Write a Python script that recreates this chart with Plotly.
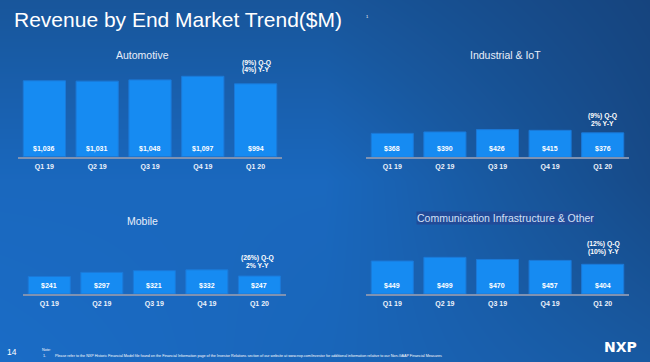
import plotly.graph_objects as go

# ---------------- data ----------------
quarters = ["Q1 19", "Q2 19", "Q3 19", "Q4 19", "Q1 20"]
automotive = [1036, 1031, 1048, 1097, 994]
industrial_iot = [368, 390, 426, 415, 376]
mobile = [241, 297, 321, 332, 247]
comm_infra = [449, 499, 470, 457, 404]

panel_titles = ["Automotive", "Industrial & IoT", "Mobile",
                "Communication Infrastructure & Other"]
growth_qq = ["(9%) Q-Q", "(9%) Q-Q", "(26%) Q-Q", "(12%) Q-Q"]
growth_yy = ["(4%) Y-Y", "2% Y-Y", "2% Y-Y", "(10%) Y-Y"]

# ---------------- layout helpers ----------------
W, H = 650, 362
def px_x(p):
    return p / W
def px_y(p):
    return 1 - p / H

FONT = "Liberation Sans, Arial, sans-serif"
BAR = "#168bf2"
BAR_EDGE = "#1b79d8"
TXT = "#eef3fb"

panels = [
    dict(vals=automotive, ax="2", x0=18, x1=282, base=156.8, top=60, ymax=1319,
         tx=142, ty=55.5, gx=256, gy=(62.8, 70.3)),
    dict(vals=industrial_iot, ax="3", x0=366, x1=629, base=157.3, top=60, ymax=1497,
         tx=505, ty=55, gx=602.7, gy=(116.2, 123.5)),
    dict(vals=mobile, ax="4", x0=23, x1=285.7, base=294, top=200, ymax=1291,
         tx=142.3, ty=220.7, gx=257.7, gy=(257.7, 265.7)),
    dict(vals=comm_infra, ax="5", x0=366, x1=629, base=294, top=200, ymax=1279,
         tx=505, ty=217.7, gx=603, gy=(244.2, 252.3)),
]

fig = go.Figure()

# background gradient (decorative) on the first subplot so it is drawn underneath
bg_z = [
    [0.95, 0.80, 0.50],
    [0.85, 0.85, 0.15],
    [0.42, 0.42, 0.00],
]
fig.add_trace(go.Heatmap(
    z=bg_z, x=[0, 0.5, 1], y=[0, 0.5, 1], zsmooth="best",
    colorscale=[[0, "#16447e"], [0.5, "#18589f"], [1, "#1a6cc6"]],
    showscale=False, hoverinfo="skip", xaxis="x", yaxis="y"))

layout = dict(
    width=W, height=H,
    margin=dict(l=0, r=0, t=0, b=0),
    paper_bgcolor="#175aa6",
    plot_bgcolor="rgba(0,0,0,0)",
    showlegend=False,
    font=dict(family=FONT, color=TXT),
    xaxis=dict(domain=[0, 1], range=[0, 1], visible=False, fixedrange=True),
    yaxis=dict(domain=[0, 1], range=[0, 1], visible=False, fixedrange=True),
)

annotations = []
for i, p in enumerate(panels):
    ax = p["ax"]
    fig.add_trace(go.Bar(
        x=quarters, y=p["vals"], xaxis="x" + ax, yaxis="y" + ax,
        marker=dict(color=BAR, line=dict(color=BAR_EDGE, width=1)),
        hoverinfo="skip"))
    layout["xaxis" + ax] = dict(
        domain=[px_x(p["x0"]), px_x(p["x1"])], anchor="y" + ax,
        showgrid=False, zeroline=False, showline=True,
        linecolor="#7f92b2", linewidth=1.5, ticks="", ticklabelstandoff=2,
        tickfont=dict(family=FONT, size=7, color=TXT, weight="bold"),
        range=[-0.5, 4.5], fixedrange=True)
    layout["yaxis" + ax] = dict(
        domain=[px_y(p["base"]), px_y(p["top"])], anchor="x" + ax,
        range=[0, p["ymax"]], visible=False, fixedrange=True)
    # value labels at the bottom of each bar
    for q, v in zip(quarters, p["vals"]):
        annotations.append(dict(
            x=q, y=0, xref="x" + ax, yref="y" + ax, text="$" + f"{v:,}",
            showarrow=False, yanchor="bottom", yshift=2,
            font=dict(family=FONT, size=7, color="white", weight="bold")))
    # panel title
    title = dict(x=px_x(p["tx"]), y=px_y(p["ty"]), xref="paper", yref="paper",
                 text=panel_titles[i], showarrow=False,
                 xanchor="center", yanchor="middle",
                 font=dict(family=FONT, size=10.5, color="#e8eefa"))
    if i == 3:
        title.update(bgcolor="#214b98", borderpad=0,
                     font=dict(family=FONT, size=10.5, color="#d3e0f6"))
    annotations.append(title)
    # growth notes
    for txt, gy in zip((growth_qq[i], growth_yy[i]), p["gy"]):
        annotations.append(dict(
            x=px_x(p["gx"]), y=px_y(gy), xref="paper", yref="paper",
            text=txt, showarrow=False, xanchor="center", yanchor="middle",
            font=dict(family=FONT, size=6.8, color="white", weight="bold")))

# slide title and footnote marker
annotations.append(dict(x=px_x(12), y=px_y(19.5), xref="paper", yref="paper",
                        text="Revenue by End Market Trend($M)", showarrow=False,
                        xanchor="left", yanchor="middle",
                        font=dict(family=FONT, size=21, color="white")))
annotations.append(dict(x=px_x(364), y=px_y(16), xref="paper", yref="paper",
                        text="1", showarrow=False, xanchor="left", yanchor="middle",
                        font=dict(family=FONT, size=4, color="white")))
# footer
annotations.append(dict(x=px_x(5), y=px_y(351.7), xref="paper", yref="paper",
                        text="14", showarrow=False, xanchor="left", yanchor="middle",
                        font=dict(family=FONT, size=8.5, color="white")))
annotations.append(dict(x=px_x(40), y=px_y(349.5), xref="paper", yref="paper",
                        text="Note:", showarrow=False, xanchor="left", yanchor="middle",
                        font=dict(family=FONT, size=3.7, color="white")))
annotations.append(dict(x=px_x(41), y=px_y(355.7), xref="paper", yref="paper",
                        text="1.", showarrow=False, xanchor="left", yanchor="middle",
                        font=dict(family=FONT, size=3.7, color="white")))
annotations.append(dict(
    x=px_x(53), y=px_y(355.7), xref="paper", yref="paper",
    text=("Please refer to the NXP Historic Financial Model file found on the Financial "
          "Information page of the Investor Relations section of our website at "
          "www.nxp.com/investor for additional information relative to our Non-GAAP "
          "Financial Measures"),
    showarrow=False, xanchor="left", yanchor="middle",
    font=dict(family=FONT, size=3.7, color="white")))
annotations.append(dict(x=px_x(620), y=px_y(347.3), xref="paper", yref="paper",
                        text="NXP", showarrow=False, xanchor="center", yanchor="middle",
                        font=dict(family="DejaVu Sans", size=14, color="white",
                                  weight="bold")))

layout["annotations"] = annotations
fig.update_layout(**layout)
fig.write_html(
    "out.html",
    config={"displayModeBar": False},
    post_script="document.body.style.margin='0';document.body.style.overflow='hidden';")
